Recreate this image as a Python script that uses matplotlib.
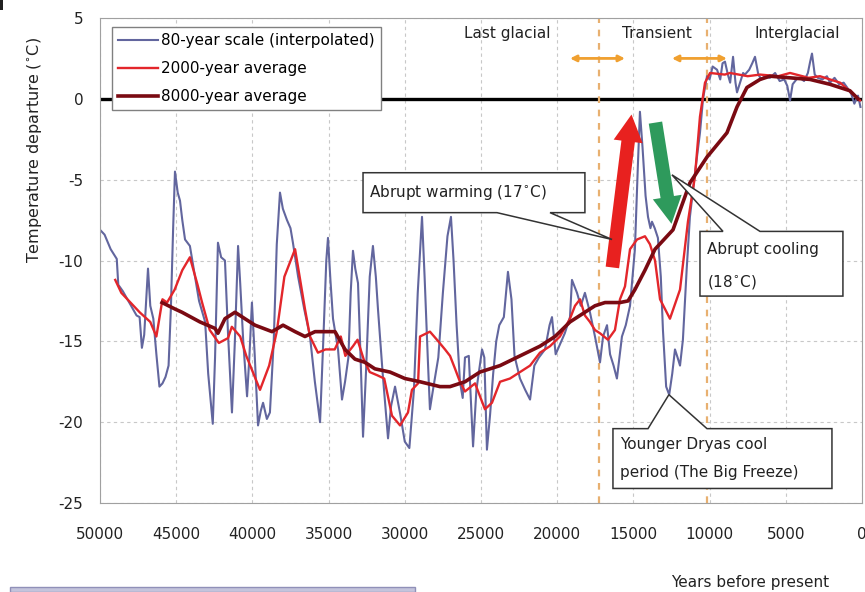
import numpy as np
import matplotlib.pyplot as plt
from matplotlib.patches import Polygon, FancyArrowPatch, Rectangle

plt.rcParams['font.family'] = ['DejaVu Sans']
plt.rcParams['axes.unicode_minus'] = False

# 80-year scale (interpolated)
yr80 = [50000, 49700, 49300, 48900, 48800, 48500, 48200, 47900, 47600, 47400,
        47250, 47100, 46950, 46850, 46700, 46500, 46300, 46100, 45900, 45700,
        45500, 45350, 45200, 45080, 44900, 44750, 44600, 44420, 44100, 43800,
        43500, 43100, 42900, 42600, 42450, 42260, 42050, 41800, 41600, 41340,
        41150, 40940, 40800, 40600, 40350, 40200, 40030, 39850, 39630, 39450,
        39300, 39050, 38850, 38600, 38400, 38190, 38000, 37730, 37500, 37340,
        37000, 36600, 36220, 35900, 35560, 35350, 35150, 35040, 34880, 34710,
        34380, 34120, 33920, 33700, 33550, 33400, 33250, 33070, 32900, 32740,
        32550, 32300, 32090, 31900, 31760, 31450, 31100, 30900, 30640, 30300,
        30000, 29700, 29400, 29150, 28870, 28700, 28480, 28350, 28150, 27800,
        27500, 27200, 26970, 26800, 26600, 26380, 26200, 26050, 25800, 25520,
        25300, 24930, 24780, 24610, 24400, 24200, 24000, 23800, 23500, 23230,
        23000, 22800, 22440, 22100, 21780, 21500, 21200, 20800, 20500, 20340,
        20100, 19820, 19500, 19160, 19030, 18700, 18450, 18180, 17850, 17520,
        17190, 16990, 16730, 16530, 16300, 16080, 15750, 15500, 15220, 14900,
        14700, 14570, 14400, 14200, 14040, 13880, 13780, 13600, 13390, 13200,
        13060, 12850, 12650, 12450, 12270, 12100, 11940, 11750, 11500, 11290,
        10960, 10630, 10430, 10170, 10000, 9800, 9510, 9300, 9150, 8990,
        8800, 8650, 8460, 8300, 8200, 8000, 7800, 7680, 7400, 7200,
        7020, 6800, 6600, 6400, 6040, 5700, 5400, 5100, 4900, 4720,
        4550, 4300, 4070, 3800, 3550, 3400, 3280, 3100, 2900, 2600,
        2300, 2100, 1800, 1500, 1200, 900, 700, 500, 260, 100]
t80 = [-8.1, -8.4, -9.3, -9.9, -11.5, -11.9, -12.4, -12.9, -13.4, -13.5,
       -15.4, -14.6, -12.2, -10.5, -12.8, -13.6, -15.8, -17.8, -17.6, -17.2,
       -16.5, -13.0, -8.0, -4.5, -5.8, -6.3, -7.5, -8.7, -9.1, -10.8,
       -12.5, -13.8, -17.0, -20.1, -16.0, -8.9, -9.8, -10.0, -14.5, -19.4,
       -15.0, -9.1, -11.4, -15.0, -18.4, -16.0, -12.6, -15.8, -20.2, -19.3,
       -18.8, -19.8, -19.4, -15.0, -9.0, -5.8, -6.8, -7.5, -8.0, -8.9,
       -11.0, -13.0, -14.7, -17.5, -20.0, -15.0, -10.0, -8.6, -11.2, -13.6,
       -15.5, -18.6, -17.5, -16.0, -12.0, -9.4, -10.5, -11.4, -16.0, -20.9,
       -17.0, -11.0, -9.1, -11.0, -13.0, -17.0, -21.0, -19.0, -17.8, -19.5,
       -21.2, -21.6, -18.0, -12.0, -7.3, -11.0, -16.3, -19.2, -18.0, -16.0,
       -12.0, -8.5, -7.3, -10.0, -14.0, -17.5, -18.5, -16.0, -15.9, -21.5,
       -18.0, -15.5, -16.0, -21.7, -19.5, -17.0, -15.0, -14.0, -13.5, -10.7,
       -12.4, -15.9, -17.3, -18.0, -18.6, -16.5, -16.0, -15.5, -14.0, -13.5,
       -15.8, -15.2, -14.5, -13.5, -11.2, -12.0, -12.8, -12.0, -13.2, -14.7,
       -16.3, -14.7, -14.0, -15.8, -16.5, -17.3, -14.7, -14.0, -12.8, -9.3,
       -4.0, -0.8, -3.0, -6.0, -7.3, -8.0, -7.6, -8.0, -8.6, -11.0,
       -14.3, -17.8, -18.3, -17.0, -15.5, -16.0, -16.5, -14.9, -10.5, -7.3,
       -4.6, -2.1, 0.0, 1.4, 1.2, 2.0, 1.8, 1.2, 2.2, 2.3,
       1.5, 1.0, 2.6, 1.0, 0.4, 1.0, 1.6, 1.5, 1.8, 2.2,
       2.6, 1.5, 1.2, 1.4, 1.3, 1.6, 1.1, 1.2, 0.8, -0.1,
       0.9, 1.2, 1.3, 1.1, 1.6, 2.3, 2.8, 1.5, 1.3, 1.2,
       1.4, 1.0, 1.3, 0.9, 1.0, 0.6, 0.3, -0.3, 0.2, -0.5]

# 2000-year average
yr2k = [49000, 48600, 48000, 47400, 46700, 46300, 45900, 45600, 45100, 44600,
        44100, 43600, 43300, 42800, 42200, 41600, 41350, 40800, 40400, 39500,
        38900, 38400, 37900, 37200, 36900, 36550, 36220, 35700, 35200, 34600,
        34200, 33900, 33400, 33100, 32700, 32300, 31800, 31350, 30840, 30310,
        29790, 29530, 29130, 29000, 28350, 27890, 27360, 27030, 26700, 26380,
        26050, 25390, 24740, 24280, 23750, 23100, 22440, 21780, 21130, 20470,
        19820, 19160, 18830, 18500, 18180, 17850, 17520, 17190, 16670, 16210,
        15880, 15550, 15220, 14760, 14240, 13910, 13580, 13250, 12600, 11940,
        11420, 10960, 10630, 10300, 9970, 9000, 8660, 7500, 6690, 5500,
        4720, 3500, 2760, 1440, 460, 130]
t2k = [-11.2, -12.0, -12.6, -13.2, -13.8, -14.7, -12.4, -12.6, -11.8, -10.6,
       -9.8, -11.5, -12.6, -14.3, -15.1, -14.8, -14.1, -14.7, -15.9, -18.0,
       -16.5, -14.4, -11.0, -9.3, -11.0, -13.0, -14.7, -15.7, -15.5, -15.5,
       -14.7, -15.9, -15.3, -14.9, -16.1, -16.9, -17.1, -17.3, -19.6, -20.2,
       -19.4, -18.0, -17.6, -14.7, -14.4, -14.9, -15.5, -15.9, -16.7, -17.5,
       -18.1, -17.6, -19.2, -18.8, -17.5, -17.3, -16.9, -16.5, -15.7, -15.3,
       -14.7, -13.6, -12.8, -12.4, -13.4, -13.8, -14.3, -14.5, -14.9, -14.3,
       -12.4, -11.6, -9.3, -8.7, -8.5, -9.0, -10.0, -12.4, -13.6, -11.8,
       -7.6, -4.8, -1.1, 1.0, 1.6, 1.5, 1.6, 1.4, 1.5, 1.4,
       1.6, 1.3, 1.4, 1.0, 0.2, -0.1]

# 8000-year average
yr8k = [45930, 45080, 44620, 43440, 42450, 42260, 41800, 41140, 40490, 39830,
        38710, 37990, 37200, 36550, 35890, 34580, 33920, 33270, 32610, 31960,
        30970, 29990, 29000, 27690, 27030, 26050, 25070, 23750, 22440, 21130,
        20140, 19160, 18180, 17520, 16860, 15880, 15350, 14900, 14240, 13580,
        12400, 11290, 10170, 8860, 8200, 7550, 6690, 6040, 4720, 3410,
        2100, 790, 260]
t8k = [-12.6, -13.0, -13.2, -13.8, -14.2, -14.5, -13.6, -13.2, -13.6, -14.0,
       -14.4, -14.0, -14.4, -14.7, -14.4, -14.4, -15.5, -16.1, -16.3, -16.7,
       -16.9, -17.3, -17.5, -17.8, -17.8, -17.5, -16.9, -16.5, -15.9, -15.3,
       -14.7, -13.8, -13.2, -12.8, -12.6, -12.6, -12.5, -11.8, -10.6, -9.3,
       -8.1, -5.2, -3.6, -2.1, -0.5, 0.7, 1.2, 1.4, 1.3, 1.2,
       0.9, 0.5, 0.0]

xticks = [50000, 45000, 40000, 35000, 30000, 25000, 20000, 15000, 10000, 5000, 0]
yticks = [5, 0, -5, -10, -15, -20, -25]
transitions = [17250, 10200]

fig = plt.figure(figsize=(8.65, 5.92), dpi=100)
ax = fig.add_axes([0.1156, 0.1503, 0.8809, 0.8193])

ax.set_xlim(50000, 0)
ax.set_ylim(-25, 5)
ax.set_xticks(xticks)
ax.set_xticklabels([str(v) for v in xticks])
ax.set_yticks(yticks)
ax.set_yticklabels([str(v) for v in yticks])
ax.tick_params(axis='both', length=0, labelsize=11, colors='#222222')
ax.tick_params(axis='x', pad=17)
ax.tick_params(axis='y', pad=12)
ax.grid(True, color='#c8c8c8', linestyle=(0, (3, 3)), linewidth=0.8)
ax.set_axisbelow(True)
for s in ax.spines.values():
    s.set_color('#a0a0a0')

ax.axhline(0, color='black', lw=2.4, zorder=1.5)
for tx in transitions:
    ax.axvline(tx, color='#e8b070', lw=1.6, linestyle=(0, (3, 3)), zorder=1.6)

l80, = ax.plot(yr80, t80, color='#62669e', lw=1.5, zorder=2)
l2k, = ax.plot(yr2k, t2k, color='#e3262b', lw=1.7, zorder=3)
l8k, = ax.plot(yr8k, t8k, color='#7a0a12', lw=2.6, zorder=3.5)

leg = ax.legend([l80, l2k, l8k],
                ['80-year scale (interpolated)', '2000-year average', '8000-year average'],
                loc='upper left', bbox_to_anchor=(0.016, 0.981), borderaxespad=0,
                fancybox=False, edgecolor='#808080', framealpha=1, fontsize=11,
                handlelength=2.6, handletextpad=0.2, labelspacing=0.85, borderpad=0.4)
leg.get_frame().set_linewidth(1.0)
leg.set_zorder(10)

# period labels and transition arrows
ax.text(23300, 4.05, 'Last glacial', ha='center', va='center', fontsize=11, color='#222222')
ax.text(13450, 4.05, 'Transient', ha='center', va='center', fontsize=11, color='#222222')
ax.text(4270, 4.05, 'Interglacial', ha='center', va='center', fontsize=11, color='#222222')
for a, b in [(19160, 15550), (12470, 8860)]:
    ax.annotate('', xy=(b, 2.5), xytext=(a, 2.5),
                arrowprops=dict(arrowstyle='<|-|>', color='#f0a030', lw=2,
                                mutation_scale=9, shrinkA=0, shrinkB=0))

# abrupt warming / cooling arrows
ax.add_patch(FancyArrowPatch((16400, -10.6), (15100, -0.8),
                             arrowstyle='simple,head_length=1.3,head_width=1.4,tail_width=0.65',
                             mutation_scale=15, color='#e8211f', lw=0, zorder=4))
ax.add_patch(FancyArrowPatch((13580, -1.3), (12470, -7.9),
                             arrowstyle='simple,head_length=1.3,head_width=1.4,tail_width=0.65',
                             mutation_scale=15, color='#2e9a5c', lw=0, zorder=4))


def callout(x0, x1, y0, y1, b1, b2, tip, top_side):
    if top_side:
        pts = [(x0, y0), (b1, y0), tip, (b2, y0), (x1, y0), (x1, y1), (x0, y1)]
    else:
        pts = [(x0, y0), (x1, y0), (x1, y1), (b2, y1), tip, (b1, y1), (x0, y1)]
    ax.add_patch(Polygon(pts, closed=True, fc='white', ec='#333333', lw=1.1, zorder=6))


callout(32740, 18180, -4.57, -7.04, 23950, 20470, (16400, -8.7), False)
ax.text(32350, -5.8, 'Abrupt warming (17$^{\\circ}$C)', ha='left', va='center',
        fontsize=11, color='#222222', zorder=7)

callout(10630, 1250, -8.2, -12.2, 9120, 6690, (12470, -4.7), True)
ax.text(10200, -9.3, 'Abrupt cooling', ha='left', va='center', fontsize=11,
        color='#222222', zorder=7)
ax.text(10200, -11.3, '(18$^{\\circ}$C)', ha='left', va='center', fontsize=11,
        color='#222222', zorder=7)

callout(16340, 1970, -20.4, -24.1, 14040, 10170, (12670, -18.3), True)
ax.text(15900, -21.35, 'Younger Dryas cool', ha='left', va='center', fontsize=11,
        color='#222222', zorder=7)
ax.text(15900, -23.1, 'period (The Big Freeze)', ha='left', va='center', fontsize=11,
        color='#222222', zorder=7)

fig.text(35 / 865, 1 - 150 / 592, 'Temperature departure ($^{\\circ}$C)', rotation=90,
         ha='center', va='center', fontsize=11.5, color='#222222')
fig.text(750 / 865, 1 - 582 / 592, 'Years before present', ha='center', va='center',
         fontsize=11, color='#222222')

# decorative bits at the picture edges
fig.patches.append(Rectangle((10 / 865, 0), 405 / 865, 5 / 592, transform=fig.transFigure,
                             fc='#c4c4dc', ec='#9090b8', lw=1))
fig.patches.append(Rectangle((0, 1 - 10 / 592), 3 / 865, 10 / 592, transform=fig.transFigure,
                             fc='#202020', ec='none'))

fig.savefig('out.png', dpi=100)
